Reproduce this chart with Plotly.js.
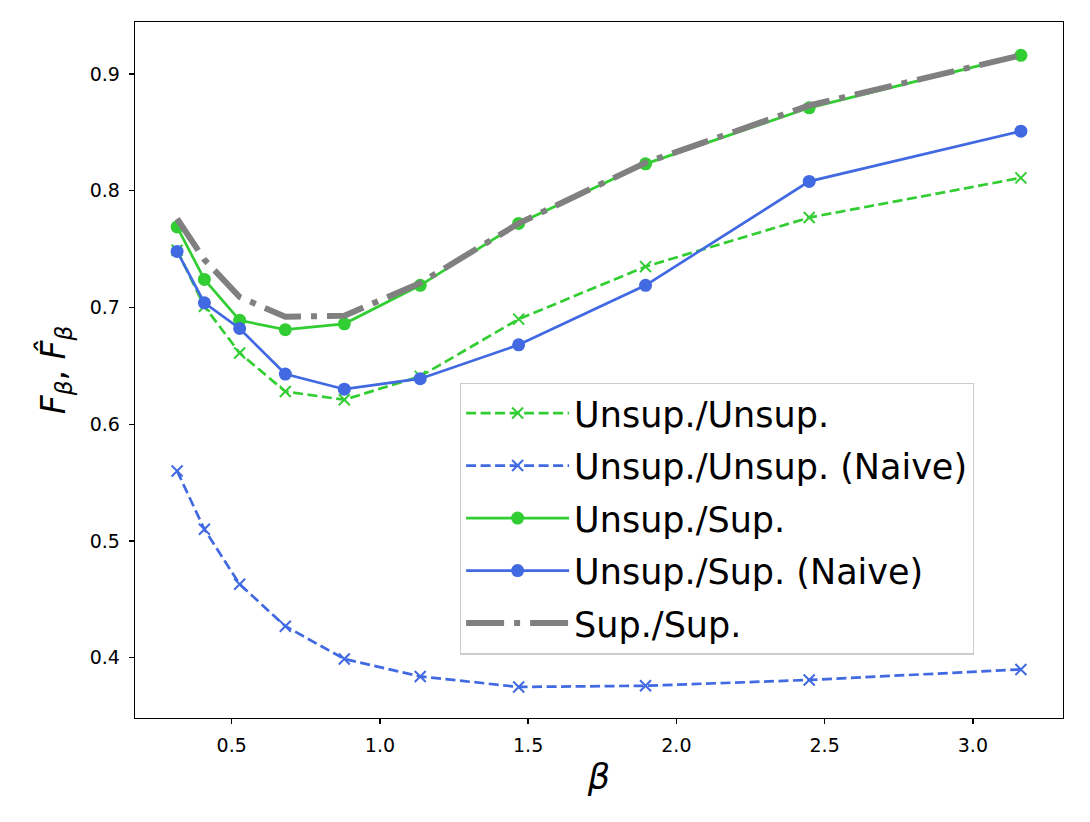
<!DOCTYPE html>
<html>
<head>
<meta charset="utf-8">
<script src="https://cdn.plot.ly/plotly-3.0.1.min.js"></script>
<style>
  body { margin: 0; background: #fff; }
  #chart { width: 1090px; height: 822px; }
</style>
</head>
<body>
<div id="chart"></div>
<script>
// beta values (x axis)
const beta = [0.316, 0.408, 0.527, 0.681, 0.880, 1.136, 1.468, 1.896, 2.448, 3.162];

// series
const unsupUnsup      = [0.749, 0.701, 0.661, 0.628, 0.621, 0.641, 0.690, 0.735, 0.777, 0.811];
const unsupUnsupNaive = [0.560, 0.510, 0.463, 0.427, 0.399, 0.384, 0.375, 0.376, 0.381, 0.390];
const unsupSup        = [0.769, 0.724, 0.689, 0.681, 0.686, 0.719, 0.772, 0.823, 0.871, 0.916];
const unsupSupNaive   = [0.748, 0.704, 0.682, 0.643, 0.630, 0.639, 0.668, 0.719, 0.808, 0.851];
const supSup          = [0.776, 0.741, 0.709, 0.692, 0.693, 0.721, 0.772, 0.824, 0.873, 0.916];

const seriesNames = ['Unsup./Unsup.', 'Unsup./Unsup. (Naive)', 'Unsup./Sup.', 'Unsup./Sup. (Naive)', 'Sup./Sup.'];

const green = '#32cd32';
const blue = '#4169e1';
const gray = '#808080';
const font = 'DejaVu Sans, sans-serif';

const traces = [
  {
    x: beta, y: unsupUnsup, name: seriesNames[0], legendgroup: 'a',
    mode: 'lines+markers',
    line: { color: green, width: 2.7, dash: '10px,4.5px' },
    marker: { symbol: 'x-thin-open', size: 11, line: { color: green, width: 2 } }
  },
  {
    x: beta, y: unsupUnsupNaive, name: seriesNames[1], legendgroup: 'b',
    mode: 'lines+markers',
    line: { color: blue, width: 2.7, dash: '10px,4.5px' },
    marker: { symbol: 'x-thin-open', size: 11, line: { color: blue, width: 2 } }
  },
  {
    x: beta, y: unsupSup, name: seriesNames[2], legendgroup: 'c',
    mode: 'lines+markers',
    line: { color: green, width: 2.7 },
    marker: { symbol: 'circle', size: 13, color: green }
  },
  {
    x: beta, y: unsupSupNaive, name: seriesNames[3], legendgroup: 'd',
    mode: 'lines+markers',
    line: { color: blue, width: 2.7 },
    marker: { symbol: 'circle', size: 13, color: blue }
  },
  {
    x: beta, y: supSup, name: seriesNames[4], legendgroup: 'e',
    mode: 'lines',
    line: { color: gray, width: 6, dash: '38px,10px,6px,10px' }
  }
];

const axisCommon = {
  showline: true, mirror: true, linecolor: '#000', linewidth: 1.3,
  ticks: 'outside', ticklen: 5, tickwidth: 1.3, tickcolor: '#000',
  showgrid: false, zeroline: false, ticklabelstandoff: 5,
  tickfont: { family: font, size: 19, color: '#000' }
};

const layout = {
  width: 1090, height: 822,
  margin: { l: 135, r: 27, t: 22, b: 104 },
  paper_bgcolor: '#fff', plot_bgcolor: '#fff',
  font: { family: font, color: '#000' },
  xaxis: Object.assign({}, axisCommon, {
    range: [0.174, 3.304],
    tickvals: [0.5, 1.0, 1.5, 2.0, 2.5, 3.0],
    ticktext: ['0.5', '1.0', '1.5', '2.0', '2.5', '3.0'],
    title: { text: '<i>β</i>', font: { family: font, size: 35 }, standoff: 9 }
  }),
  yaxis: Object.assign({}, axisCommon, {
    range: [0.3484, 0.9445],
    tickvals: [0.4, 0.5, 0.6, 0.7, 0.8, 0.9],
    ticktext: ['0.4', '0.5', '0.6', '0.7', '0.8', '0.9'],
    title: { text: '<i>F</i><sub><i>β</i></sub>, <i>F̂</i><sub><i>β</i></sub>', font: { family: font, size: 33 }, standoff: 14 }
  }),
  showlegend: true,
  legend: {
    x: 0.350, y: 0.482, xanchor: 'left', yanchor: 'top',
    bgcolor: '#fff', bordercolor: '#cccccc', borderwidth: 1.3,
    font: { family: font, size: 35, color: '#000' },
    itemwidth: 103,
    traceorder: 'grouped', tracegroupgap: 4
  }
};

Plotly.newPlot('chart', traces, layout, { displayModeBar: false, staticPlot: true });
</script>
</body>
</html>
